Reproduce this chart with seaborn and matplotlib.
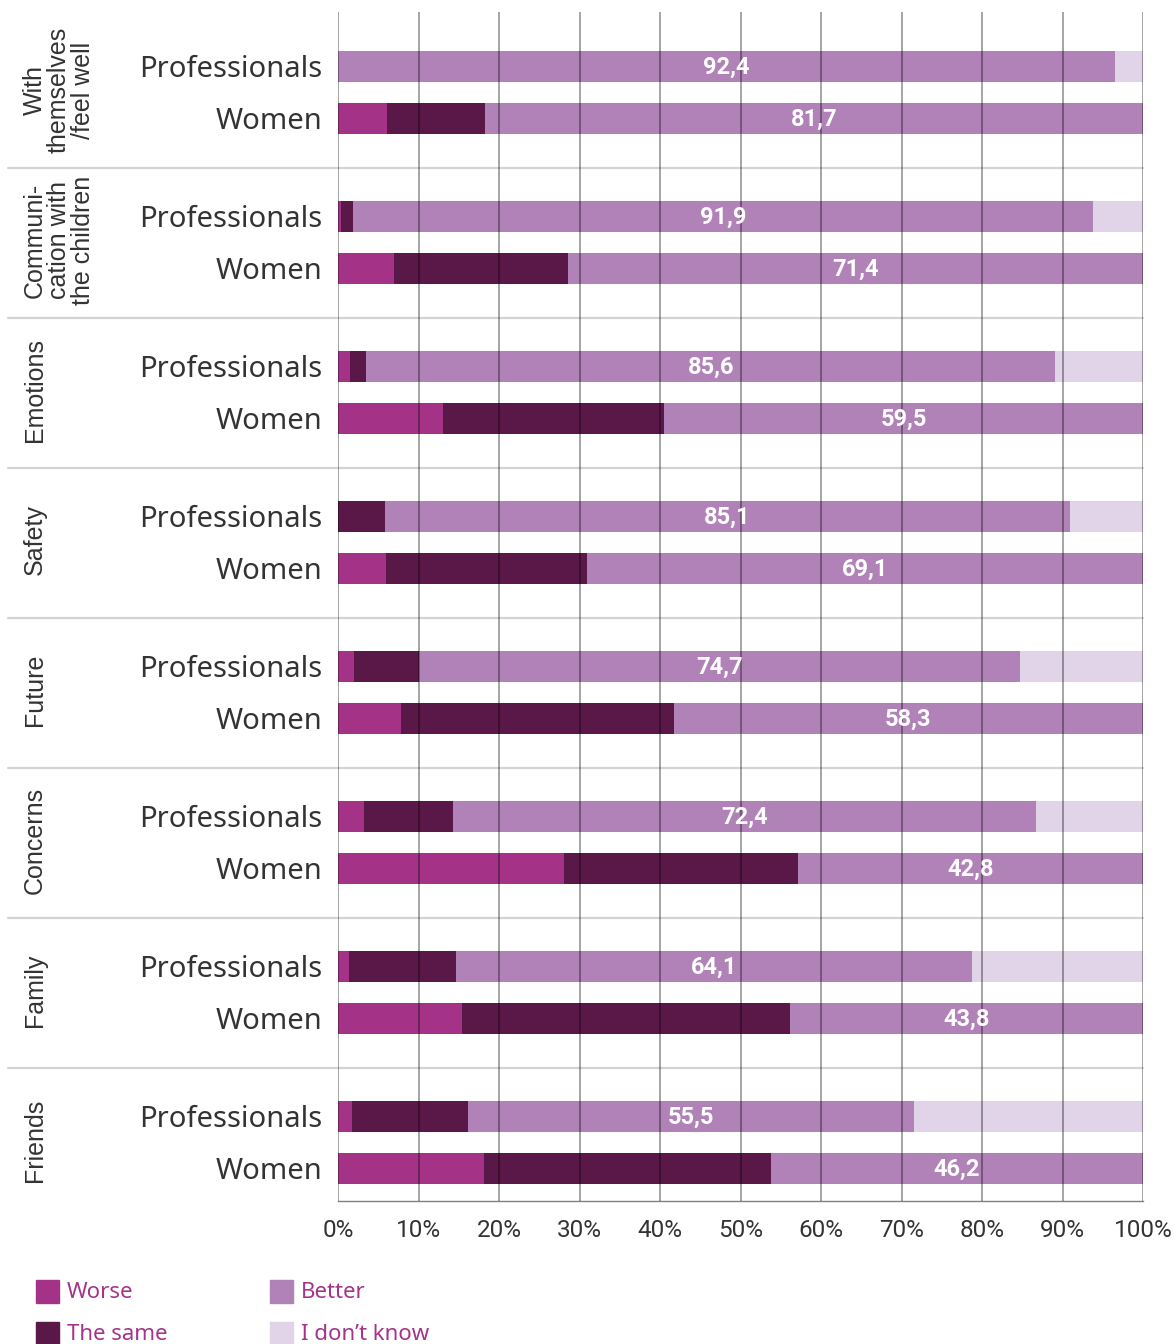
import numpy as np
import pandas as pd
import matplotlib
matplotlib.use("Agg")
import matplotlib.pyplot as plt
import matplotlib.transforms as mtransforms
from matplotlib.patches import Rectangle
import seaborn as sns

# ---------------- data ----------------
groups = ["With\nthemselves\n/feel well", "Communi-\ncation with\nthe children",
          "Emotions", "Safety", "Future", "Concerns", "Family", "Friends"]
rows = ["Professionals", "Women"]

prof_worse = [0.0, 0.4, 1.5, 0.0, 2.0, 3.2, 1.4, 1.7]
prof_same = [0.0, 1.5, 2.0, 5.8, 8.0, 11.1, 13.3, 14.4]
prof_better = [96.5, 91.9, 85.6, 85.1, 74.7, 72.4, 64.1, 55.5]
prof_better_label = ["92,4", "91,9", "85,6", "85,1", "74,7", "72,4", "64,1", "55,5"]

women_worse = [6.1, 7.0, 13.0, 6.0, 7.8, 28.1, 15.4, 18.1]
women_same = [12.2, 21.6, 27.5, 24.9, 33.9, 29.1, 40.8, 35.7]
women_better = [81.7, 71.4, 59.5, 69.1, 58.3, 42.8, 43.8, 46.2]
women_better_label = ["81,7", "71,4", "59,5", "69,1", "58,3", "42,8", "43,8", "46,2"]

xticks = [0, 10, 20, 30, 40, 50, 60, 70, 80, 90, 100]
xticklabels = [f"{t}%" for t in xticks]

series = ["Worse", "The same", "Better", "I don\u2019t know"]
colors = {"Worse": "#a43388", "The same": "#5a1848", "Better": "#b082b7",
          "I don\u2019t know": "#e1d3e8"}

# ---------------- build table ----------------
recs = []
for i, g in enumerate(groups):
    for r, (w, s, b, lab) in zip(rows, [(prof_worse[i], prof_same[i], prof_better[i], prof_better_label[i]),
                                       (women_worse[i], women_same[i], women_better[i], women_better_label[i])]):
        dk = max(0.0, 100.0 - (w + s + b))
        recs.append(dict(group=g, row=r, gi=i, worse=w, same=s, better=b, dk=dk, label=lab))
df = pd.DataFrame(recs)
# vertical layout (pixel-like units from top)
df["ypos"] = df["gi"] * 150 + np.where(df["row"] == "Professionals", 66, 118)
df["c_worse"] = df["worse"]
df["c_same"] = df["worse"] + df["same"]
df["c_better"] = df["c_same"] + df["better"]
df["c_dk"] = df["c_better"] + df["dk"]

W, H = 1176, 1344
fig = plt.figure(figsize=(W / 100, H / 100), dpi=100)
sns.set_style("white")
plt.rcParams["font.family"] = ["Noto Sans", "DejaVu Sans"]

ax = fig.add_axes([338 / W, 1 - 1201 / H, (1143 - 338) / W, (1201 - 12) / H])

bar_w = 31 / 52
for col, key in [("c_dk", "I don\u2019t know"), ("c_better", "Better"),
                 ("c_same", "The same"), ("c_worse", "Worse")]:
    sns.barplot(data=df, x=col, y="ypos", orient="y", native_scale=True,
                width=bar_w, color=colors[key], saturation=1, linewidth=0,
                errorbar=None, ax=ax, zorder=2)

ax.set_xlim(0, 100)
ax.set_ylim(1201, 12)

# value labels
for _, r in df.iterrows():
    xc = r["c_same"] + r["better"] / 2
    ax.text(xc, r["ypos"] + 1, r["label"], ha="center", va="center", color="white",
            fontsize=17, fontweight="bold", family="Roboto", zorder=6)

# gridlines on top
for t in xticks:
    ax.plot([t, t], [12, 1201], color="#000000", alpha=0.45, lw=1.1, zorder=5,
            solid_capstyle="butt")

# group separators
trans = mtransforms.blended_transform_factory(fig.transFigure, ax.transData)
for i in range(1, len(groups)):
    y = 168 + 150 * (i - 1)
    ax.plot([8 / W, 1143 / W], [y, y], transform=trans, color="#d4d4d4", lw=1.6,
            clip_on=False, zorder=1)

# spines
for s in ["top", "right", "left"]:
    ax.spines[s].set_visible(False)
ax.spines["bottom"].set_color("#808080")
ax.spines["bottom"].set_linewidth(1.0)

ax.set_xticks(xticks)
ax.set_xticklabels(xticklabels, fontsize=17.5, color="#333333", family="Roboto")
ax.tick_params(axis="x", length=0, pad=13)
ax.set_yticks(df["ypos"].tolist())
ax.set_yticklabels(df["row"].tolist(), fontsize=21, color="#333333")
ax.tick_params(axis="y", length=0, pad=11)
ax.set_xlabel("")
ax.set_ylabel("")

# group labels
for i, g in enumerate(groups):
    yc = 90 + 150 * i
    ax.text(23 / W, yc, g, transform=trans, rotation=90, ha="left", va="center",
            multialignment="center", fontsize=18, color="#333333",
            family="Liberation Sans", linespacing=1.0)

# legend (manual)
leg_items = [("Worse", 36, 1291), ("The same", 36, 1333),
             ("Better", 270, 1291), ("I don\u2019t know", 270, 1333)]
for name, x0, yc in leg_items:
    fig.patches.append(Rectangle((x0 / W, 1 - (yc + 11.5) / H), 23 / W, 23 / H,
                                 transform=fig.transFigure, color=colors[name]))
    fig.text((x0 + 31) / W, 1 - (yc + 1) / H, name, ha="left", va="center",
             fontsize=16, color="#a4338a")

fig.savefig("out.png", dpi=100)
